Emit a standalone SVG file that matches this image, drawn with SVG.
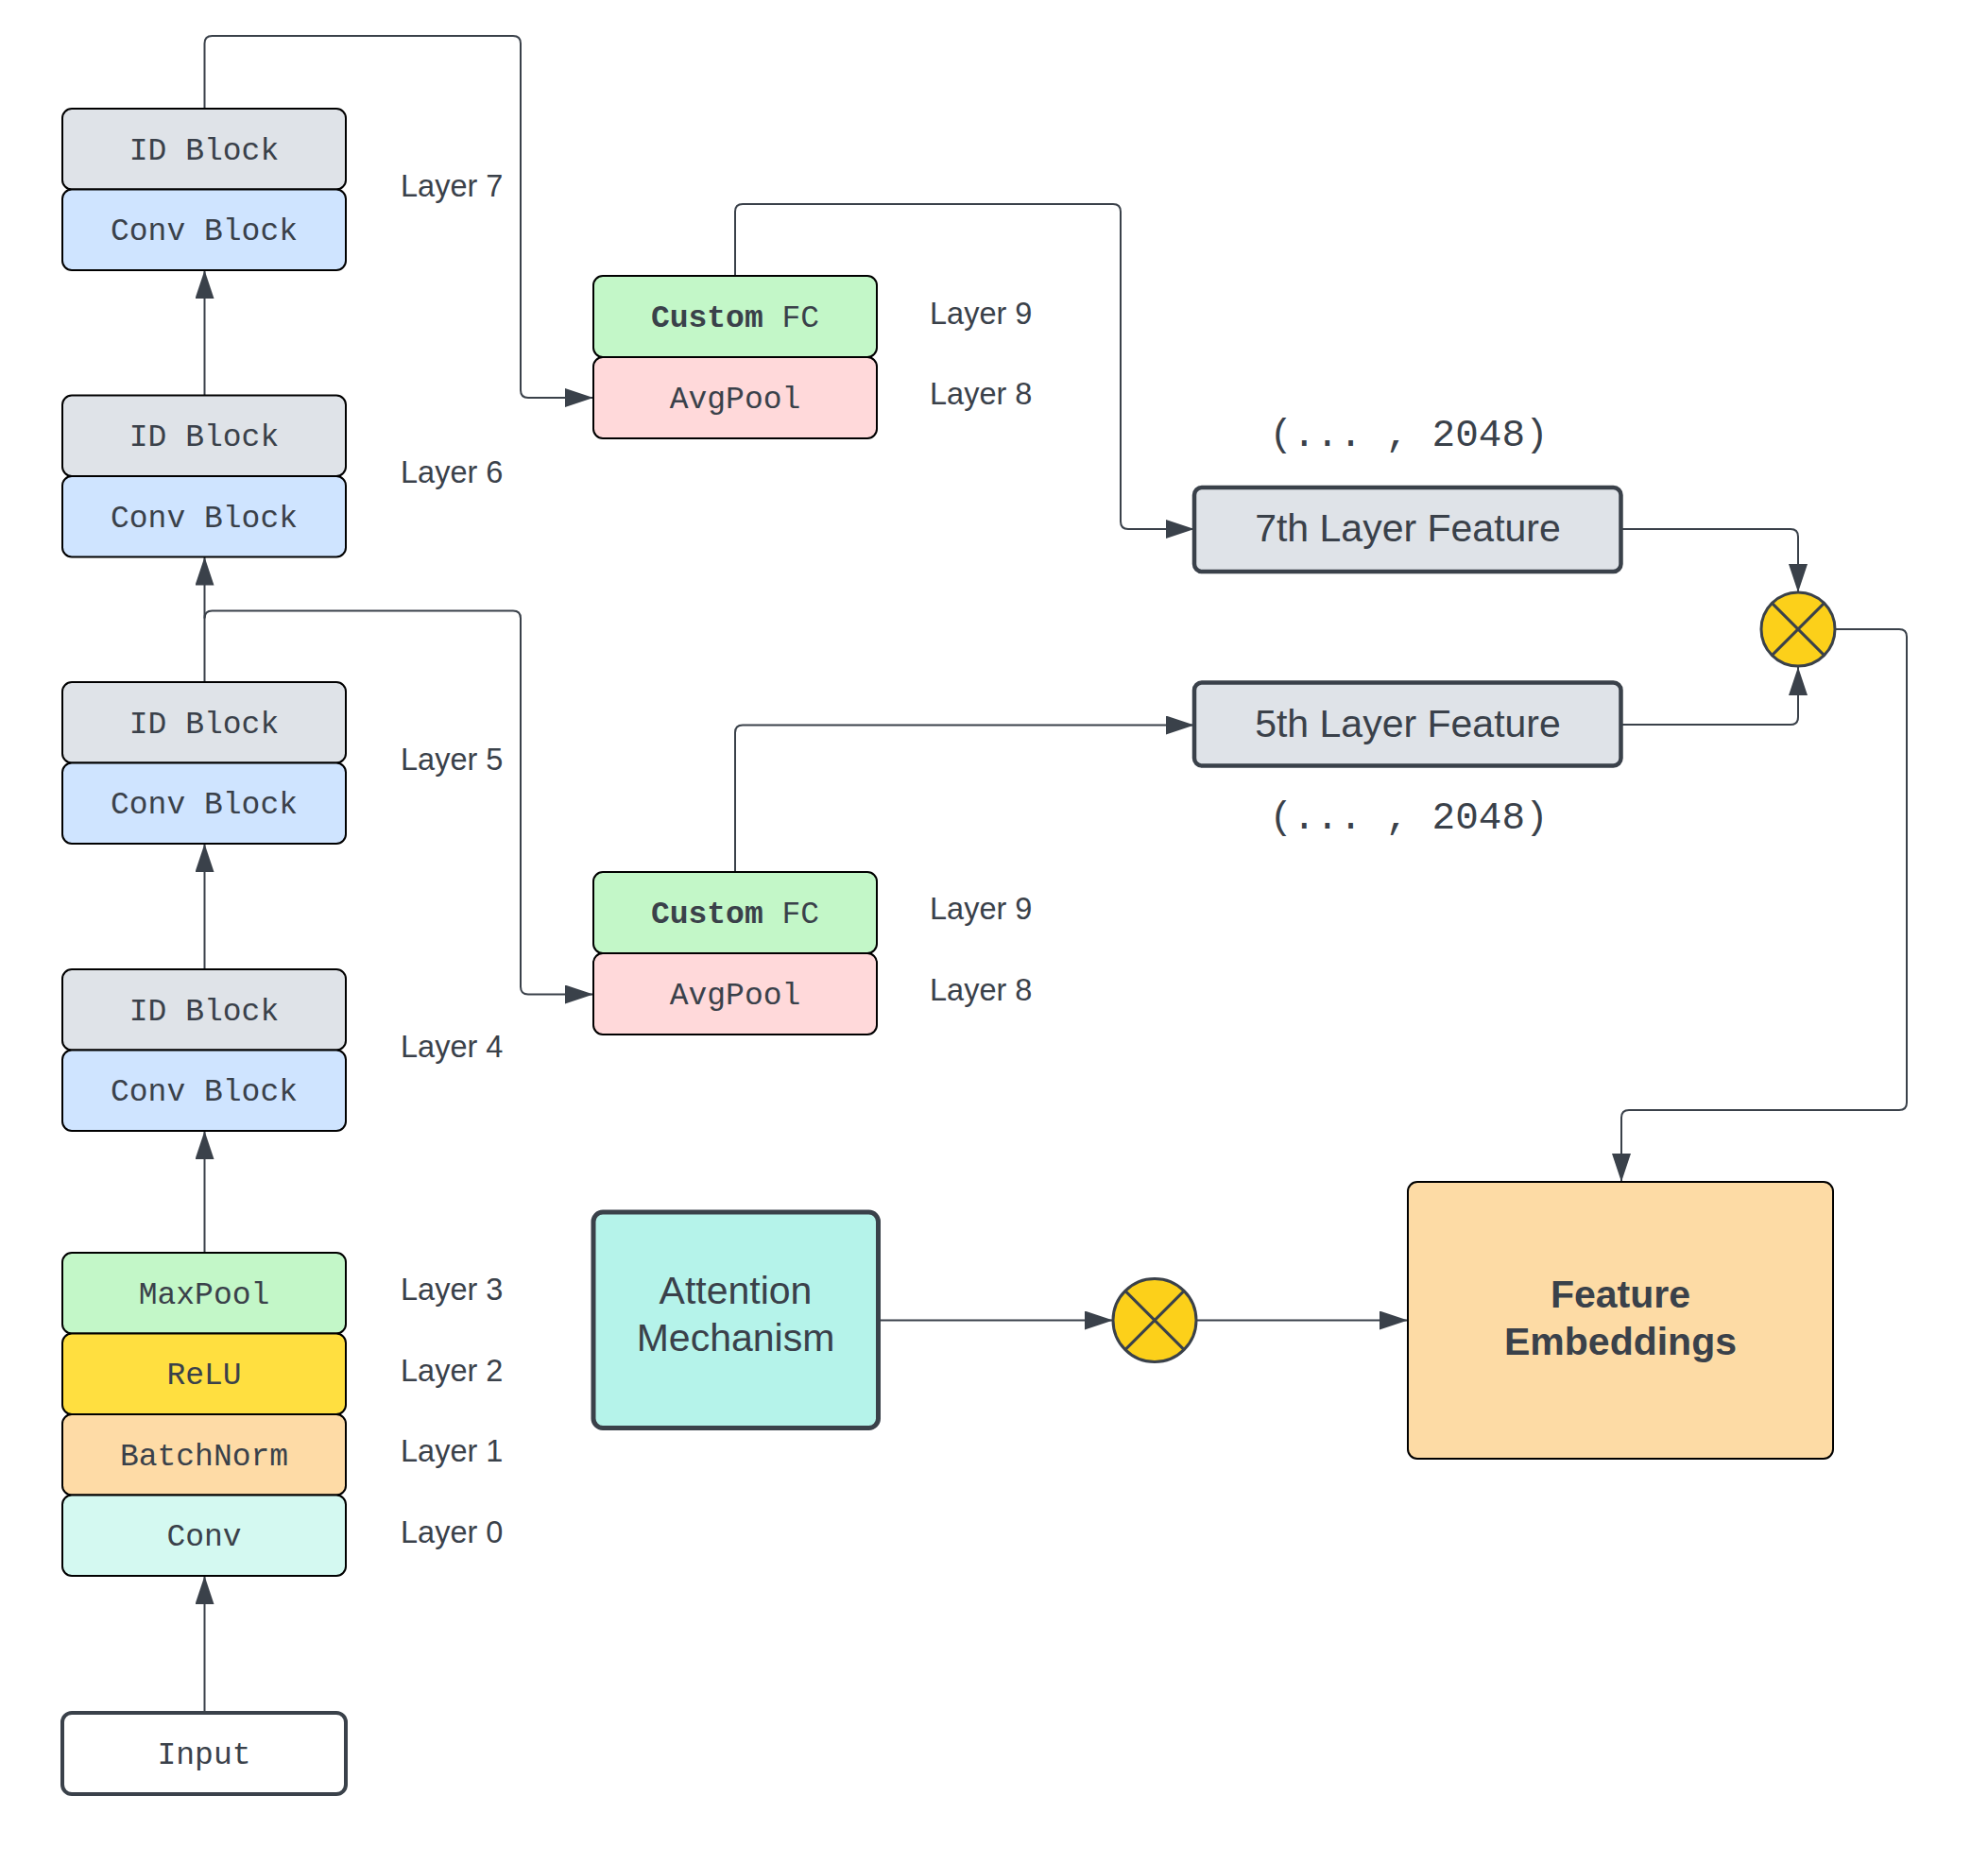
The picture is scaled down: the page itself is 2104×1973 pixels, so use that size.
<svg xmlns="http://www.w3.org/2000/svg" width="2104" height="1973" viewBox="0 0 2104 1973">
<style>
.blk{stroke:#000;stroke-width:2}
.mono{font-family:"Liberation Mono","DejaVu Sans Mono",monospace;font-size:33px;fill:#3a414a;text-anchor:middle}
.lbl{font-family:"Liberation Sans",Arial,sans-serif;font-size:32.5px;fill:#3a414a}
.big{font-family:"Liberation Sans",Arial,sans-serif;font-size:41px;fill:#3a414a;text-anchor:middle}
.dim{font-family:"Liberation Mono","DejaVu Sans Mono",monospace;font-size:41px;fill:#3a414a;text-anchor:middle}
.id{fill:#dfe3e8}.cv{fill:#cfe4ff}.gr{fill:#c3f7c8}.pk{fill:#ffd9da}.ye{fill:#ffdf40}.or{fill:#fedba6}.tq{fill:#d4f9f1}
.feat{fill:#dfe3e8;stroke:#3a414a;stroke-width:4.5}
.mul{fill:#fcd01a;stroke:#3a414a;stroke-width:3}
.x{stroke:#3a414a;stroke-width:3}
.con{fill:none;stroke:#3a414a;stroke-width:2}
</style>
<defs>
<marker id="ah" markerUnits="userSpaceOnUse" markerWidth="30" markerHeight="20" refX="30" refY="10" orient="auto">
<path d="M0,0 L30,10 L0,20 z" fill="#3a414a"/>
</marker>
</defs>
<rect width="2104" height="1973" fill="#fff"/>

<g id="connectors" class="con" marker-end="url(#ah)">
<path d="M216.5,418.5 V286"/>
<path d="M216.5,722 V589.5"/>
<path d="M216.5,1026 V893"/>
<path d="M216.5,1326 V1197"/>
<path d="M216.5,1813 V1668"/>
<path d="M216.5,115 V46 Q216.5,38 224.5,38 H543 Q551,38 551,46 V413 Q551,421 559,421 H628"/>
<path d="M216.5,654.5 Q216.5,646.5 224.5,646.5 H543 Q551,646.5 551,654.5 V1044.5 Q551,1052.5 559,1052.5 H628"/>
<path d="M778,292 V224 Q778,216 786,216 H1178 Q1186,216 1186,224 V552 Q1186,560 1194,560 H1264"/>
<path d="M778,923 V775.5 Q778,767.5 786,767.5 H1264"/>
<path d="M1716,560 H1895 Q1903,560 1903,568 V627"/>
<path d="M1716,767 H1895 Q1903,767 1903,759 V706"/>
<path d="M1942,666 H2010 Q2018,666 2018,674 V1167 Q2018,1175 2010,1175 H1724 Q1716,1175 1716,1183 V1251"/>
<path d="M929.5,1397.5 H1178"/>
<path d="M1266,1397.5 H1490"/>
</g>

<g id="layer7">
<rect class="blk id" x="66" y="115" width="300" height="85.5" rx="10"/>
<text class="mono" x="216" y="168.5">ID Block</text>
<rect class="blk cv" x="66" y="200.5" width="300" height="85.5" rx="10"/>
<text class="mono" x="216" y="254">Conv Block</text>
<text class="lbl" x="424" y="207.5">Layer 7</text>
</g>
<g id="layer6">
<rect class="blk id" x="66" y="418.5" width="300" height="85.5" rx="10"/>
<text class="mono" x="216" y="472">ID Block</text>
<rect class="blk cv" x="66" y="504" width="300" height="85.5" rx="10"/>
<text class="mono" x="216" y="557.5">Conv Block</text>
<text class="lbl" x="424" y="511">Layer 6</text>
</g>
<g id="layer5">
<rect class="blk id" x="66" y="722" width="300" height="85.5" rx="10"/>
<text class="mono" x="216" y="775.5">ID Block</text>
<rect class="blk cv" x="66" y="807.5" width="300" height="85.5" rx="10"/>
<text class="mono" x="216" y="861">Conv Block</text>
<text class="lbl" x="424" y="815">Layer 5</text>
</g>
<g id="layer4">
<rect class="blk id" x="66" y="1026" width="300" height="85.5" rx="10"/>
<text class="mono" x="216" y="1079.5">ID Block</text>
<rect class="blk cv" x="66" y="1111.5" width="300" height="85.5" rx="10"/>
<text class="mono" x="216" y="1165">Conv Block</text>
<text class="lbl" x="424" y="1119">Layer 4</text>
</g>
<g id="maxpool">
<rect class="blk gr" x="66" y="1326" width="300" height="85.5" rx="10"/>
<text class="mono" x="216" y="1379.5">MaxPool</text>
<text class="lbl" x="424" y="1376">Layer 3</text>
</g>
<g id="relu">
<rect class="blk ye" x="66" y="1411.5" width="300" height="85.5" rx="10"/>
<text class="mono" x="216" y="1465">ReLU</text>
<text class="lbl" x="424" y="1462">Layer 2</text>
</g>
<g id="batchnorm">
<rect class="blk or" x="66" y="1497" width="300" height="85.5" rx="10"/>
<text class="mono" x="216" y="1550.5">BatchNorm</text>
<text class="lbl" x="424" y="1547">Layer 1</text>
</g>
<g id="conv">
<rect class="blk tq" x="66" y="1582.5" width="300" height="85.5" rx="10"/>
<text class="mono" x="216" y="1636">Conv</text>
<text class="lbl" x="424" y="1633">Layer 0</text>
</g>
<g id="input">
<rect x="66" y="1813" width="300" height="86" rx="10" fill="#fff" stroke="#3a414a" stroke-width="4"/>
<text class="mono" x="216" y="1866.5">Input</text>
</g>

<g id="head7">
<rect class="blk gr" x="628" y="292" width="300" height="86" rx="10"/>
<text class="mono" x="778" y="345.5"><tspan font-weight="bold">Custom</tspan> FC</text>
<rect class="blk pk" x="628" y="378" width="300" height="86" rx="10"/>
<text class="mono" x="778" y="431.5">AvgPool</text>
<text class="lbl" x="984" y="342.5">Layer 9</text>
<text class="lbl" x="984" y="428">Layer 8</text>
</g>
<g id="head5">
<rect class="blk gr" x="628" y="923" width="300" height="86" rx="10"/>
<text class="mono" x="778" y="976.5"><tspan font-weight="bold">Custom</tspan> FC</text>
<rect class="blk pk" x="628" y="1009" width="300" height="86" rx="10"/>
<text class="mono" x="778" y="1062.5">AvgPool</text>
<text class="lbl" x="984" y="973">Layer 9</text>
<text class="lbl" x="984" y="1059">Layer 8</text>
</g>

<g id="feature7">
<text class="dim" x="1491" y="472">(... , 2048)</text>
<rect class="feat" x="1264" y="516" width="451.5" height="89" rx="8"/>
<text class="big" x="1490" y="573">7th Layer Feature</text>
</g>
<g id="feature5">
<rect class="feat" x="1264" y="722.5" width="451.5" height="88" rx="8"/>
<text class="big" x="1490" y="780">5th Layer Feature</text>
<text class="dim" x="1491" y="877">(... , 2048)</text>
</g>

<g id="multiply1">
<circle class="mul" cx="1903" cy="666" r="39"/>
<line class="x" x1="1875.4" y1="638.4" x2="1930.6" y2="693.6"/>
<line class="x" x1="1930.6" y1="638.4" x2="1875.4" y2="693.6"/>
</g>

<g id="attention">
<rect x="628" y="1283" width="301.5" height="228.5" rx="10" fill="#b5f3ea" stroke="#3a414a" stroke-width="5"/>
<text class="big" x="778.5" y="1380">Attention</text>
<text class="big" x="778.5" y="1430">Mechanism</text>
</g>

<g id="multiply2">
<circle class="mul" cx="1222" cy="1397.5" r="44"/>
<line class="x" x1="1190.9" y1="1366.4" x2="1253.1" y2="1428.6"/>
<line class="x" x1="1253.1" y1="1366.4" x2="1190.9" y2="1428.6"/>
</g>

<g id="embeddings">
<rect x="1490" y="1251" width="450" height="293" rx="10" fill="#fddba5" stroke="#000" stroke-width="2"/>
<text class="big" x="1715" y="1384" font-weight="bold">Feature</text>
<text class="big" x="1715" y="1434" font-weight="bold">Embeddings</text>
</g>
</svg>
